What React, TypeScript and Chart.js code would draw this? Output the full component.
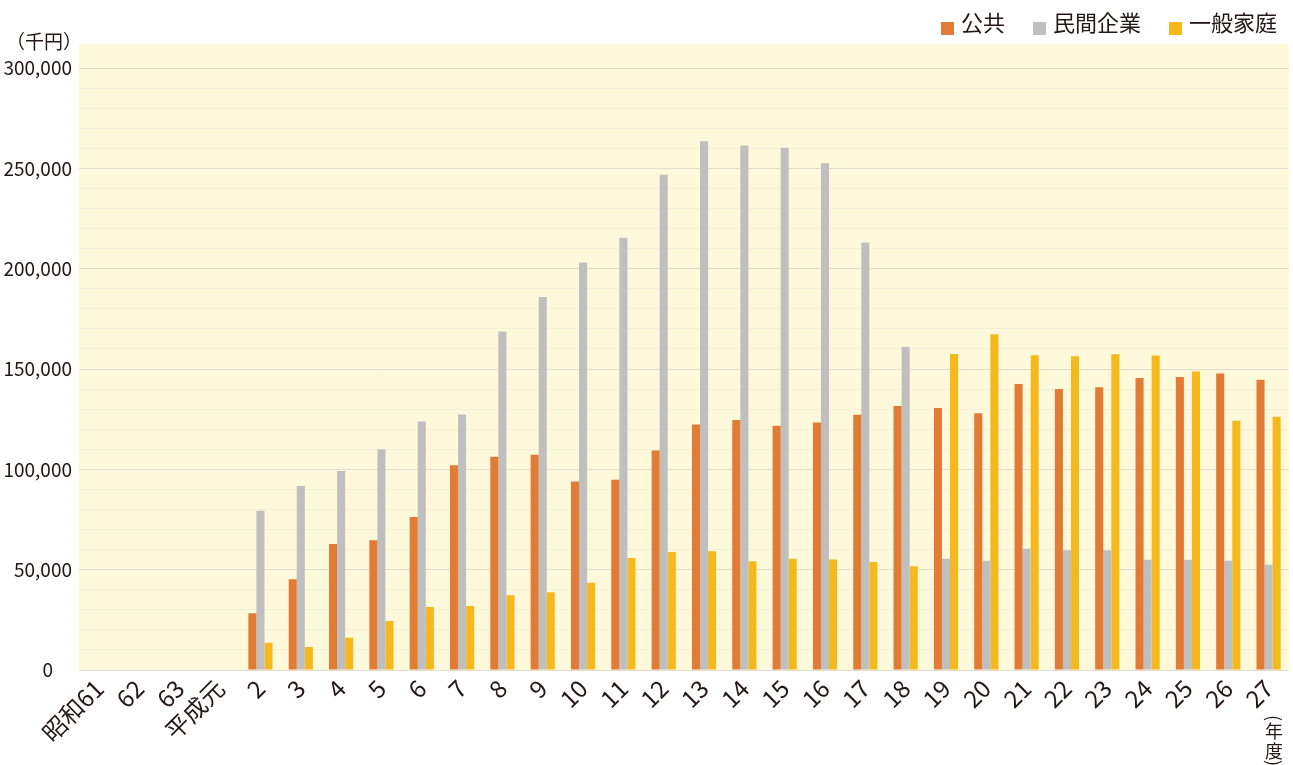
import React, { useEffect, useRef } from "react";
import { Chart, registerables } from "chart.js";

Chart.register(...registerables);

const categories = [
  "昭和61", "62", "63", "平成元", "2", "3", "4", "5", "6", "7", "8", "9", "10", "11", "12",
  "13", "14", "15", "16", "17", "18", "19", "20", "21", "22", "23", "24", "25", "26", "27",
];

const seriesNames = ["公共", "民間企業", "一般家庭"];
const seriesColors = ["#E27B35", "#BFBFBF", "#F5B91E"];

const publicValues = [
  null, null, null, null, 28300, 45200, 62800, 64700, 76300, 102000, 106300, 107300, 93900,
  94800, 109400, 122400, 124600, 121700, 123300, 127200, 131600, 130600, 127900, 142500,
  140000, 140900, 145500, 146000, 147800, 144700,
];
const privateValues = [
  null, null, null, null, 79300, 91700, 99200, 110000, 123800, 127300, 168700, 185900, 203100,
  215400, 246800, 263500, 261400, 260300, 252500, 213100, 161100, 55400, 54400, 60400, 59700,
  59700, 54900, 54900, 54400, 52400,
];
const householdValues = [
  null, null, null, null, 13600, 11500, 16100, 24400, 31400, 31900, 37300, 38700, 43500, 55800,
  58800, 59200, 54200, 55400, 55100, 53800, 51700, 157500, 167300, 156800, 156300, 157300,
  156700, 148700, 124200, 126200,
];

const yMax = 300000;
const yMajorStep = 50000;
const yMinorStep = 10000;
const unitLabel = "（千円）";
const yearLabelChars = ["(", "年", "度", ")"];

const FONT = '"Noto Sans CJK JP", "Noto Sans", sans-serif';
const TEXT = "#231815";

const decorPlugin = {
  id: "decor",
  beforeDraw(chart: any) {
    const { ctx, chartArea } = chart;
    ctx.save();
    ctx.fillStyle = "#FEF9DA";
    const top = chartArea.top - 24;
    ctx.fillRect(chartArea.left, top, chartArea.right - chartArea.left, chartArea.bottom - top);
    ctx.restore();
  },
  afterDraw(chart: any) {
    const { ctx } = chart;
    ctx.save();
    // unit label
    ctx.fillStyle = TEXT;
    ctx.font = `19px ${FONT}`;
    ctx.textAlign = "left";
    ctx.textBaseline = "middle";
    ctx.fillText(unitLabel, 6, 42);

    // legend
    ctx.font = `22px ${FONT}`;
    let x = 1277;
    const items = chart.data.datasets.map((d: any) => ({ label: d.label, color: d.backgroundColor }));
    for (let i = items.length - 1; i >= 0; i--) {
      const w = ctx.measureText(items[i].label).width;
      x -= w;
      ctx.fillStyle = TEXT;
      ctx.textAlign = "left";
      ctx.textBaseline = "middle";
      ctx.fillText(items[i].label, x, 23);
      x -= 7;
      ctx.fillStyle = items[i].color;
      ctx.fillRect(x - 13, 22, 13, 13);
      x -= 13 + 28;
    }

    // (年度) vertical
    ctx.fillStyle = TEXT;
    ctx.font = `18px ${FONT}`;
    ctx.textAlign = "center";
    ctx.textBaseline = "middle";
    const cx = 1274;
    const ys = [718, 731, 751, 763];
    yearLabelChars.forEach((ch, i) => {
      if (ch === "(" || ch === ")") {
        ctx.save();
        ctx.translate(cx, ys[i]);
        ctx.rotate(Math.PI / 2);
        ctx.fillText(ch, 0, 0);
        ctx.restore();
      } else {
        ctx.fillText(ch, cx, ys[i]);
      }
    });
    ctx.restore();
  },
};

export default function App() {
  const canvasRef = useRef<HTMLCanvasElement | null>(null);

  useEffect(() => {
    document.body.style.margin = "0";
    const canvas = canvasRef.current;
    if (!canvas) return;
    const values = [publicValues, privateValues, householdValues];
    const chart = new Chart(canvas, {
      type: "bar",
      data: {
        labels: categories,
        datasets: seriesNames.map((name, i) => ({
          label: name,
          data: values[i],
          backgroundColor: seriesColors[i],
          borderWidth: 0,
          categoryPercentage: 0.6,
          barPercentage: 1.0,
        })),
      },
      options: {
        responsive: false,
        animation: false,
        devicePixelRatio: 1,
        layout: { padding: { top: 68, right: 3, left: 0, bottom: 0 } },
        plugins: {
          legend: { display: false },
          tooltip: { enabled: false },
        },
        scales: {
          x: {
            grid: { display: false, drawTicks: false },
            border: { display: false },
            ticks: {
              autoSkip: false,
              minRotation: 45,
              maxRotation: 45,
              padding: 4,
              color: TEXT,
              font: { family: FONT, size: 24 },
            },
            afterFit(scale: any) {
              scale.height = 95;
            },
          },
          y: {
            min: 0,
            max: yMax,
            border: { display: false },
            grid: {
              drawTicks: false,
              lineWidth: 1,
              color: (ctx: any) => {
                const v = ctx.tick ? ctx.tick.value : undefined;
                if (v === undefined) return "rgba(0,0,0,0)";
                return Math.round(v) % yMajorStep === 0 ? "#E2DDCE" : "#F3EED8";
              },
            },
            ticks: {
              stepSize: yMinorStep,
              autoSkip: false,
              padding: 7,
              color: TEXT,
              font: { family: FONT, size: 19 },
              callback: (v: any) => {
                const n = Math.round(Number(v));
                if (n % yMajorStep !== 0) return "";
                if (n === 0) return "0\u3000";
                return n.toLocaleString("en-US");
              },
            },
            afterFit(scale: any) {
              scale.width = 79;
            },
          },
        },
      },
      plugins: [decorPlugin],
    });
    return () => chart.destroy();
  }, []);

  return (
    <div style={{ width: 1293, height: 765 }}>
      <canvas ref={canvasRef} width={1293} height={765} />
    </div>
  );
}
